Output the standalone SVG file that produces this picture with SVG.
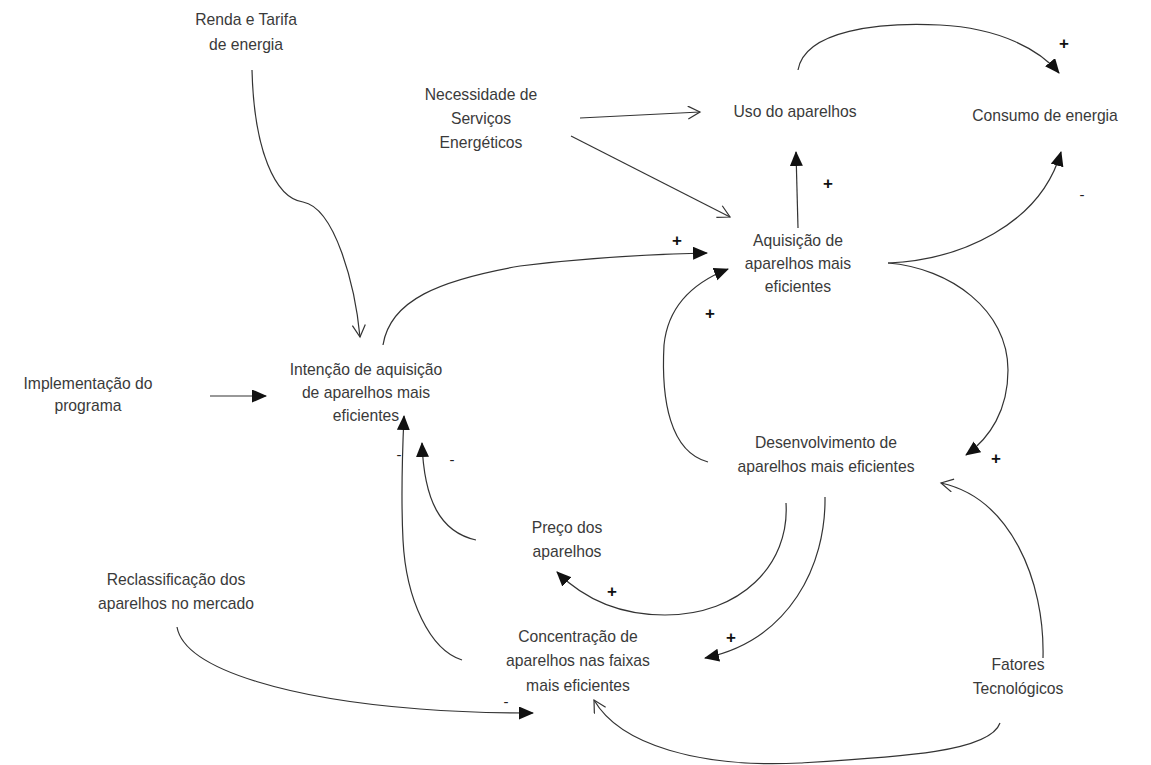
<svg xmlns="http://www.w3.org/2000/svg" width="1151" height="765" viewBox="0 0 1151 765">
<style>
.t{font-family:"Liberation Sans",Arial,sans-serif;font-size:15.7px;fill:#3a3a3a;text-anchor:middle}
.s{font-family:"Liberation Sans",Arial,sans-serif;font-size:17px;fill:#111;font-weight:bold;text-anchor:middle}
.m{font-family:"Liberation Sans",Arial,sans-serif;font-size:15px;fill:#222;text-anchor:middle}
.c{fill:none;stroke:#333;stroke-width:1.2}
.f{marker-end:url(#fa)}
.o{marker-end:url(#oa)}
</style>
<defs>
<marker id="fa" markerWidth="16" markerHeight="14" refX="14" refY="6.5" orient="auto" markerUnits="userSpaceOnUse">
<path d="M0,0 L15,6.5 L0,13 Z" fill="#111"/>
</marker>
<marker id="oa" markerWidth="16" markerHeight="16" refX="13" refY="7" orient="auto" markerUnits="userSpaceOnUse">
<path d="M1,0.5 L13,7 L1,13.5" fill="none" stroke="#333" stroke-width="1.2"/>
</marker>
</defs>
<rect width="1151" height="765" fill="#fff"/>
<g id="connectors">
<path class="c o" d="M252,70 C254,150 275,198 303,202 C335,208 355,285 360,337"/>
<path class="c o" d="M580,118 L700,112"/>
<path class="c o" d="M571,136 L730,217"/>
<path class="c f" d="M798,228 L796,152"/>
<path class="c f" d="M798,70 C805,30 880,22 940,25 C1000,28 1040,50 1059,73"/>
<path class="c f" d="M888,263 C960,260 1040,225 1061,152"/>
<path class="c f" d="M383,345 C390,300 440,280 520,266 C600,256 660,254 707,253"/>
<path class="c f" d="M708,462 C670,452 661,400 664,345 C668,305 695,282 728,269"/>
<path class="c f" d="M888,263 C950,268 1008,310 1008,370 C1008,410 990,438 966,455"/>
<path class="c o" d="M1043,658 C1045,580 1010,498 941,483"/>
<path class="c f" d="M476,540 C440,532 424,500 422,443"/>
<path class="c f" d="M462,660 C430,650 406,600 403,540 C401,500 402,460 404,416"/>
<path class="c f" d="M786,503 C790,565 740,615 665,615 C620,615 585,600 557,572"/>
<path class="c f" d="M825,497 C826,565 790,640 705,658"/>
<path class="c f" d="M177,627 C185,672 300,700 420,709 C470,713 500,713 533,713"/>
<path class="c o" d="M1000,723 C990,752 900,757 800,763 C700,768 620,745 594,700"/>
<path class="c f" d="M210,396 L266,396"/>
</g>
<g id="labels">
<text class="s" x="1064" y="49">+</text>
<text class="s" x="828" y="189">+</text>
<text class="m" x="1082" y="200">-</text>
<text class="s" x="677" y="246">+</text>
<text class="s" x="710" y="319">+</text>
<text class="s" x="996" y="464">+</text>
<text class="m" x="399" y="460">-</text>
<text class="m" x="452" y="465">-</text>
<text class="s" x="612" y="597">+</text>
<text class="s" x="731" y="643">+</text>
<text class="m" x="506" y="707">-</text>
</g>
<g id="renda"><text class="t" x="246" y="25">Renda e Tarifa</text><text class="t" x="246" y="50">de energia</text></g>
<g id="necessidade"><text class="t" x="481" y="100">Necessidade de</text><text class="t" x="481" y="124">Serviços</text><text class="t" x="481" y="148">Energéticos</text></g>
<g id="uso"><text class="t" x="795" y="117">Uso do aparelhos</text></g>
<g id="consumo"><text class="t" x="1045" y="121">Consumo de energia</text></g>
<g id="aquisicao"><text class="t" x="798" y="246">Aquisição de</text><text class="t" x="798" y="269">aparelhos mais</text><text class="t" x="798" y="292">eficientes</text></g>
<g id="implementacao"><text class="t" x="88" y="389">Implementação do</text><text class="t" x="88" y="411">programa</text></g>
<g id="intencao"><text class="t" x="366" y="375">Intenção de aquisição</text><text class="t" x="366" y="398">de aparelhos mais</text><text class="t" x="366" y="421">eficientes</text></g>
<g id="desenvolvimento"><text class="t" x="826" y="448">Desenvolvimento de</text><text class="t" x="826" y="472">aparelhos mais eficientes</text></g>
<g id="preco"><text class="t" x="567" y="533">Preço dos</text><text class="t" x="567" y="557">aparelhos</text></g>
<g id="reclassificacao"><text class="t" x="176" y="585">Reclassificação dos</text><text class="t" x="176" y="609">aparelhos no mercado</text></g>
<g id="concentracao"><text class="t" x="578" y="642">Concentração de</text><text class="t" x="578" y="666">aparelhos nas faixas</text><text class="t" x="578" y="691">mais eficientes</text></g>
<g id="fatores"><text class="t" x="1018" y="670">Fatores</text><text class="t" x="1018" y="694">Tecnológicos</text></g>
</svg>
